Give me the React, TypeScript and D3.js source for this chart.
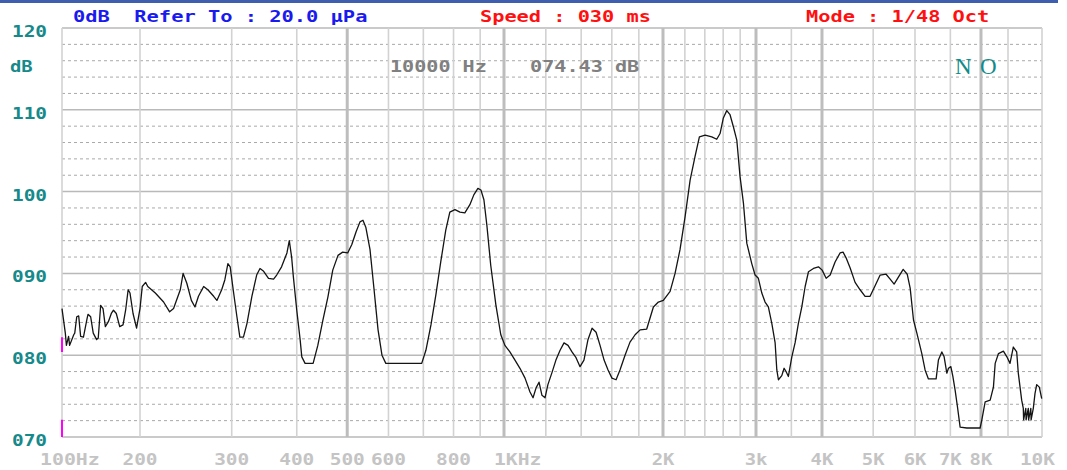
import * as d3 from "d3";

// 周波数特性 (1/48 Oct) 画面から読み取った値
const freqs = [
  100, 103, 104, 106, 107, 111, 112, 114, 116, 118, 121, 125, 126, 129, 132, 136, 138, 141, 144, 147,
  151, 155, 158, 162, 167, 172, 176, 180, 183, 188, 194, 200,
  202, 205, 207, 214, 222, 228, 232, 239, 242, 246, 251, 255, 259, 265, 270, 277, 281, 287, 291, 295,
  298, 302, 307, 311, 316, 321, 328, 335, 340, 345, 353, 361, 366, 374, 383, 387, 391, 394, 400, 406,
  409, 415, 430, 439, 449, 459, 469, 480, 490, 501, 510, 520, 529, 536, 543, 553, 563, 573, 583, 593,
  695, 708, 724, 740, 756, 773, 787, 805, 823, 841, 860, 875, 891, 903, 915, 927, 943, 965, 986,
  1004, 1026, 1049, 1072, 1096, 1120, 1135, 1150, 1165, 1180, 1196, 1211, 1233, 1254, 1277, 1299, 1322,
  1345, 1369, 1393, 1417, 1442, 1468, 1494, 1520, 1547, 1574, 1601, 1630, 1658, 1695, 1732, 1771, 1810,
  1863, 1918, 1960, 2003, 2063, 2108, 2154, 2202, 2251, 2300, 2344, 2403, 2474, 2528, 2565, 2602, 2641,
  2679, 2719, 2759, 2799, 2840, 2882, 2945, 2988, 3031, 3077, 3121, 3166, 3214, 3261, 3285, 3308, 3357,
  3391, 3420, 3455, 3507, 3557, 3609, 3663, 3717, 3771, 3854, 3939, 4003, 4073, 4145, 4235, 4328, 4385,
  4443, 4521, 4621, 4723, 4827, 4933, 5042, 5154, 5290, 5384, 5478, 5600, 5699, 5800, 5875, 5961, 6049,
  6181, 6270, 6362, 6579, 6645, 6745, 6813, 6893, 6943, 7015, 7077, 7148, 7220, 7305, 7521, 7970, 8030,
  8147, 8327, 8446, 8511, 8634, 8822, 8956, 9056, 9149, 9246, 9292, 9390, 9437, 9446, 9510, 9519, 9584,
  9593, 9659, 9668, 9734, 9785, 9837, 9917, 9991,
];
const levels = [
  85.7, 82.7, 81.2, 82.3, 81.2, 82.5, 82.7, 84.7, 84.8, 82.3, 82.2, 84.5, 85.0, 84.7, 82.7, 81.9, 82.1, 86.1, 85.7, 83.5,
  84.1, 85.1, 85.5, 85.1, 83.5, 83.7, 85.5, 88.0, 87.6, 85.1, 83.3, 85.7,
  88.4, 88.9, 88.4, 87.6, 86.5, 85.3, 85.7, 88.0, 90.0, 88.8, 86.7, 85.9, 87.2, 88.4, 88.0, 87.2, 86.7, 88.0, 89.2, 91.2,
  90.8, 88.0, 84.7, 82.2, 82.2, 83.9, 87.2, 89.8, 90.6, 90.3, 89.4, 89.3, 89.8, 90.8, 92.5, 94.0, 92.0, 89.6, 85.5, 81.9,
  79.8, 79.0, 79.0, 81.2, 84.3, 87.1, 90.4, 92.2, 92.6, 92.5, 93.5, 95.1, 96.3, 96.5, 95.6, 92.9, 88.0, 83.1, 80.0, 79.0,
  79.0, 80.6, 83.7, 87.4, 91.4, 95.3, 97.5, 97.8, 97.5, 97.4, 98.4, 99.6, 100.4, 100.2, 99.0, 95.9, 91.0, 86.1, 82.5,
  81.2, 80.4, 79.4, 78.4, 77.2, 75.5, 74.8, 76.0, 76.7, 75.1, 74.8, 76.4, 77.9, 79.4, 80.6, 81.5, 81.2,
  80.4, 79.7, 78.6, 79.4, 81.9, 83.3, 82.8, 81.2, 79.4, 78.2, 77.2, 77.0, 78.2, 80.0, 81.6, 82.5, 83.1,
  83.2, 85.9, 86.5, 86.7, 87.8, 90.0, 92.9, 96.9, 101.4, 104.3, 106.7, 106.9, 106.7, 106.4, 107.1, 109.0, 109.9,
  109.4, 107.9, 106.3, 101.8, 98.6, 93.7, 91.2, 89.8, 89.4, 87.6, 86.5, 85.9, 83.9, 81.5, 78.2, 77.0, 77.5,
  78.4, 78.0, 77.4, 79.8, 81.5, 83.9, 85.9, 88.4, 90.2, 90.6, 90.8, 90.4, 89.4, 89.8, 91.4, 92.5, 92.6,
  91.9, 90.7, 88.9, 88.0, 87.2, 87.2, 88.5, 89.8, 89.9, 89.3, 88.7, 89.7, 90.5, 89.9, 88.2, 84.3, 82.7,
  80.2, 78.2, 77.1, 77.1, 79.4, 80.4, 79.8, 77.8, 78.4, 78.6, 77.4, 75.7, 73.7, 71.2, 71.1, 71.1, 72.1,
  74.3, 74.5, 76.1, 79.0, 80.2, 80.5, 79.8, 79.0, 81.0, 80.4, 77.8, 74.5, 73.5, 72.1, 73.5, 72.1, 73.5,
  72.1, 73.5, 72.1, 73.5, 75.3, 76.4, 76.1, 74.7,
];

// 縦グリッド (周波数)
const gridFreqs = [
  100, 200, 300, 400, 500, 600, 700, 800, 900, 1000, 1200, 1400, 1600, 1800, 2000, 2200, 2400, 2600,
  2800, 3000, 3500, 4000, 5000, 6000, 7000, 8000, 9000, 10000,
];
const boldGridFreqs = [500, 1000, 2000, 3000, 4000, 8000];

// 横軸ラベル
const freqLabelValues = [100, 200, 300, 400, 500, 600, 800, 1000, 2000, 3000, 4000, 5000, 6000, 7000, 8000, 10000];
const freqLabels = ["100Hz", "200", "300", "400", "500", "600", "800", "1KHz", "2K", "3k", "4K", "5K", "6K", "7K", "8K", "10K"];

// 縦軸ラベル
const dbTicks = [120, 110, 100, 90, 80, 70];
const dbLabels = ["120", "110", "100", "090", "080", "070"];

// 左端のマーカー (dB範囲)
const markerRanges = [[80.4, 82.2], [70, 72.1]];

const width = 1067;
const height = 470;
const pitch = 12.35; // 1文字の幅

const Mono = ({x, y, text, fill, anchor = "start"}: {x: number; y: number; text: string; fill: string; anchor?: string}) => (
  <text
    x={x}
    y={y}
    fill={fill}
    fontFamily="'DejaVu Sans Mono', monospace"
    fontWeight="bold"
    fontSize={16}
    textAnchor={anchor}
    textLength={text.length * pitch - 2}
    lengthAdjust="spacingAndGlyphs"
    style={{whiteSpace: "pre"}}
  >
    {text}
  </text>
);

const App = () => {
  // この測定器の横軸は 100-200Hz が詰まっていて 9K-10K が広い
  const x = d3.scaleLog()
    .domain([100, 200, 1000, 9000, 10000])
    .range([62, 140, 504, 1008, 1042]);
  const y = d3.scaleLinear().domain([70, 120]).range([437, 28]);

  const left = x(100);
  const right = x(10000);
  const top = y(120);
  const bottom = y(70);

  const line = d3.line<number>()
    .x((_, i) => x(freqs[i]))
    .y(d => y(d))
    .curve(d3.curveLinear);

  const minorDb = d3.range(72, 120, 2).filter(d => d % 10 !== 0);

  return (
    <svg width={width} height={height} style={{position: "absolute", left: 0, top: 0, background: "#fff"}}>
      <rect x={0} y={0} width={1058} height={3} fill="#3f5fae"/>

      {/* 点線 2dBごと */}
      {minorDb.map(d => (
        <line key={"m" + d} x1={left} x2={right} y1={y(d)} y2={y(d)}
              stroke="#a9a9a9" strokeWidth={1} strokeDasharray="3 3"/>
      ))}
      {/* 10dBごと */}
      {dbTicks.map(d => (
        <line key={"h" + d} x1={left} x2={right} y1={y(d)} y2={y(d)} stroke="#b9b9b9" strokeWidth={1.5}/>
      ))}
      {/* 縦線 */}
      {gridFreqs.map(f => {
        const bold = boldGridFreqs.includes(f);
        return (
          <line key={"v" + f} x1={x(f)} x2={x(f)} y1={top} y2={bottom}
                stroke={bold ? "#bdbdbd" : "#d2d2d2"} strokeWidth={bold ? 3 : 1.6}/>
        );
      })}

      {markerRanges.map(([a, b], i) => (
        <line key={"mk" + i} x1={left} x2={left} y1={y(a)} y2={y(b)} stroke="#ff00ff" strokeWidth={2}/>
      ))}

      <path d={line(levels) ?? ""} fill="none" stroke="#141414" strokeWidth={1.3} strokeLinejoin="round"/>

      {/* 上のテキスト */}
      <Mono x={73} y={22} text="0dB  Refer To : 20.0 μPa" fill="#1a1aee"/>
      <Mono x={480} y={22} text="Speed : 030 ms" fill="#ff1010"/>
      <Mono x={806} y={22} text="Mode : 1/48 Oct" fill="#ff1010"/>

      <Mono x={390} y={72} text="10000 Hz" fill="#808080"/>
      <Mono x={530} y={72} text="074.43 dB" fill="#808080"/>

      <text x={955} y={74} fill="#138a8a" fontFamily="'Liberation Serif', serif" fontSize={23}>N</text>
      <text x={980} y={74} fill="#138a8a" fontFamily="'Liberation Serif', serif" fontSize={23}>O</text>

      {/* 縦軸 */}
      {dbTicks.map((d, i) => (
        <Mono key={"yl" + d} x={12} y={y(d) + 9} text={dbLabels[i]} fill="#16898a"/>
      ))}
      <Mono x={10} y={72} text="dB" fill="#16898a"/>

      {/* 横軸 */}
      {freqLabelValues.map((f, i) => {
        const label = freqLabels[i];
        let anchor = "middle";
        let px = x(f);
        if (i === 0) {
          anchor = "start";
          px = 40;
        } else if (f === 1000) {
          anchor = "start";
          px = x(f) - 10;
        } else if (i === freqLabelValues.length - 1) {
          anchor = "end";
          px = x(f) + 13;
        }
        return <Mono key={"xl" + f} x={px} y={465} text={label} fill="#c4c4c4" anchor={anchor}/>;
      })}
    </svg>
  );
};

export default App;
